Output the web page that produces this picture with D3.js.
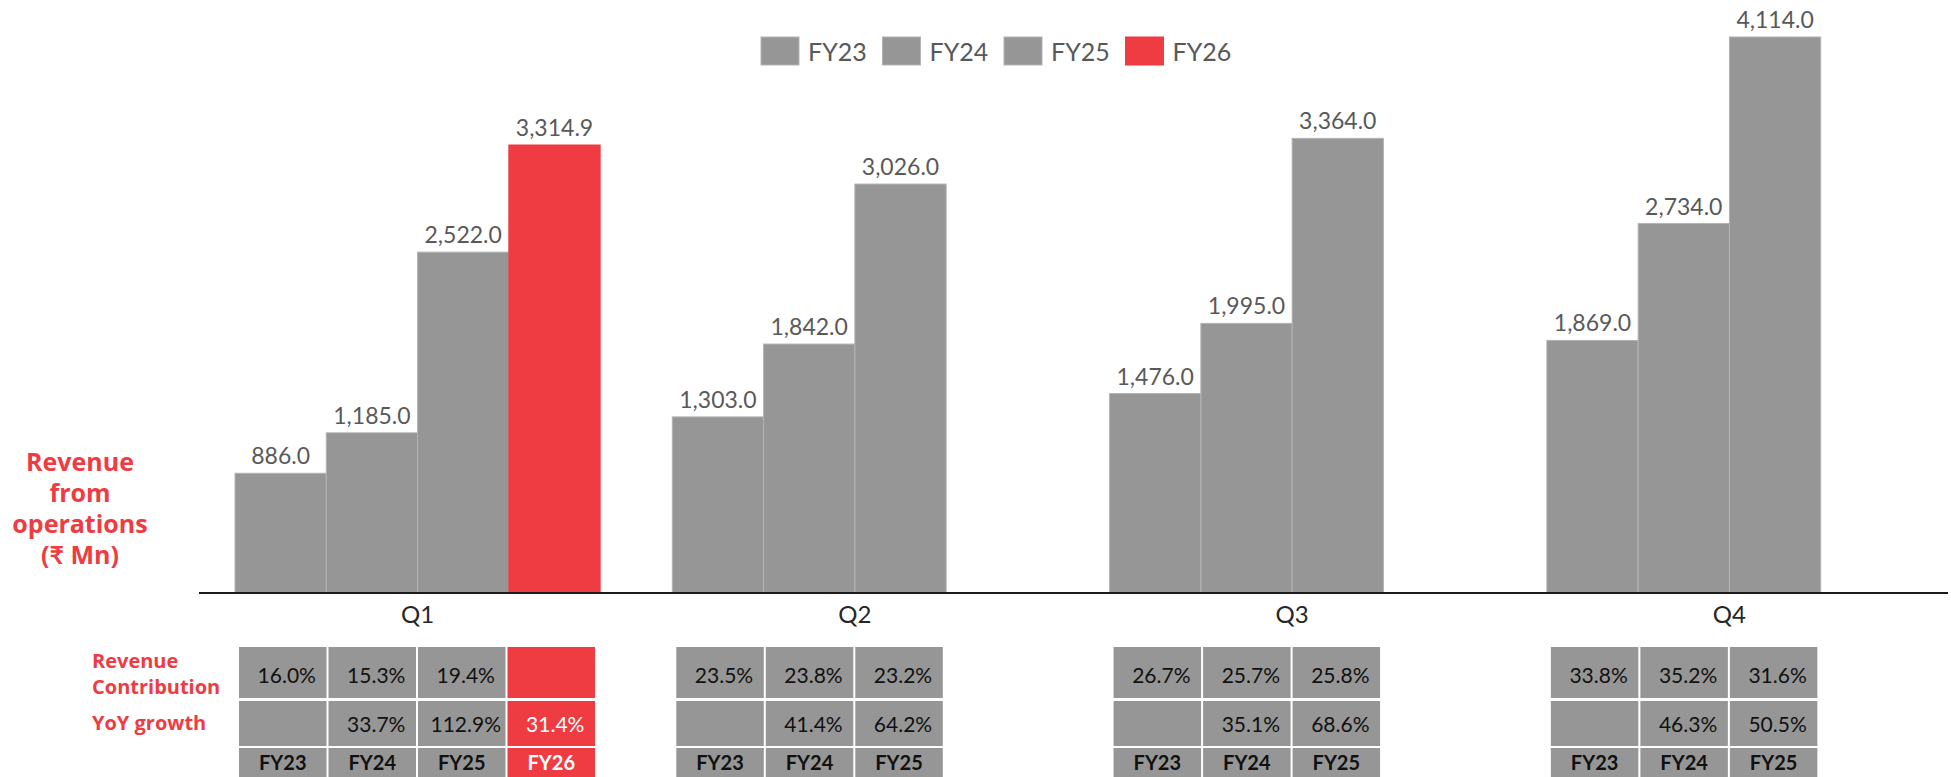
<!DOCTYPE html>
<html>
<head>
<meta charset="utf-8">
<script src="https://cdn.jsdelivr.net/npm/d3@7"></script>
<style>
  body { margin: 0; background: #fff; }
  text { font-family: Lato, "Open Sans", sans-serif; }
  .lbl { font-family: "Open Sans", Lato, sans-serif; }
</style>
</head>
<body>
<svg width="1951" height="777"></svg>
<script>
const width = 1951, height = 777;

// data
const quarters = ["Q1", "Q2", "Q3", "Q4"];
const years = ["FY23", "FY24", "FY25", "FY26"];
const fy23 = [886.0, 1303.0, 1476.0, 1869.0];
const fy24 = [1185.0, 1842.0, 1995.0, 2734.0];
const fy25 = [2522.0, 3026.0, 3364.0, 4114.0];
const fy26 = [3314.9, null, null, null];
const contribFY23 = [16.0, 23.5, 26.7, 33.8];
const contribFY24 = [15.3, 23.8, 25.7, 35.2];
const contribFY25 = [19.4, 23.2, 25.8, 31.6];
const contribFY26 = [null, null, null, null];
const yoyFY23 = [null, null, null, null];
const yoyFY24 = [33.7, 41.4, 35.1, 46.3];
const yoyFY25 = [112.9, 64.2, 68.6, 50.5];
const yoyFY26 = [31.4, null, null, null];

const seriesVals = [fy23, fy24, fy25, fy26];
const contribVals = [contribFY23, contribFY24, contribFY25, contribFY26];
const yoyVals = [yoyFY23, yoyFY24, yoyFY25, yoyFY26];

const grey = "#969696", red = "#EF3B42";
const color = d3.scaleOrdinal().domain(years).range([grey, grey, grey, red]);

const rows = [];
quarters.forEach((q, qi) => {
  years.forEach((y, yi) => {
    const v = seriesVals[yi][qi];
    if (v != null) rows.push({ q, y, v, contrib: contribVals[yi][qi], yoy: yoyVals[yi][qi] });
  });
});

const svg = d3.select("svg");

const x0 = d3.scaleBand().domain(quarters).range([235, 1912]).paddingInner(0.165).paddingOuter(0);
const x1 = d3.scaleBand().domain(years).range([0, x0.bandwidth()]).padding(0);
const y = d3.scaleLinear().domain([0, 4114]).range([593, 37]);

const fmt = d3.format(",.1f");

// bars
const bars = svg.append("g").selectAll("g")
  .data(rows)
  .enter().append("g");

bars.append("rect")
  .attr("x", d => x0(d.q) + x1(d.y))
  .attr("y", d => y(d.v))
  .attr("width", x1.bandwidth())
  .attr("height", d => y(0) - y(d.v))
  .attr("fill", d => color(d.y))
  .attr("stroke", d => d.y == "FY26" ? red : "#b3b3b3")
  .attr("stroke-width", 1);

bars.append("text")
  .attr("x", d => x0(d.q) + x1(d.y) + x1.bandwidth() / 2)
  .attr("y", d => y(d.v) - 9)
  .attr("text-anchor", "middle")
  .attr("font-size", 23)
  .attr("fill", "#595959")
  .text(d => fmt(d.v));

// axis line
svg.append("line")
  .attr("x1", 199).attr("x2", 1948)
  .attr("y1", 593).attr("y2", 593)
  .attr("stroke", "#1a1a1a").attr("stroke-width", 2);

svg.append("g").selectAll("text")
  .data(quarters)
  .enter().append("text")
  .attr("x", d => x0(d) + x0.bandwidth() / 2)
  .attr("y", 623)
  .attr("text-anchor", "middle")
  .attr("font-size", 24)
  .attr("fill", "#262626")
  .text(d => d);

// legend
const legend = svg.append("g").selectAll("g")
  .data(years)
  .enter().append("g")
  .attr("transform", (d, i) => "translate(" + (761 + i * 121.5) + ",37)");
legend.append("rect")
  .attr("width", 38).attr("height", 28)
  .attr("fill", d => color(d))
  .attr("stroke", d => d == "FY26" ? red : "#b3b3b3");
legend.append("text")
  .attr("x", 47).attr("y", 24)
  .attr("font-size", 25)
  .attr("fill", "#595959")
  .text(d => d);

// left title
const title = ["Revenue", "from", "operations", "(₹ Mn)"];
svg.append("g").selectAll("text")
  .data(title)
  .enter().append("text")
  .attr("class", "lbl")
  .attr("x", 80)
  .attr("y", (d, i) => 471 + i * 31)
  .attr("text-anchor", "middle")
  .attr("font-size", 25)
  .attr("font-weight", "bold")
  .attr("fill", red)
  .text(d => d);

// table row labels
const rowLabels = [["Revenue", 668], ["Contribution", 694], ["YoY growth", 730]];
svg.append("g").selectAll("text")
  .data(rowLabels)
  .enter().append("text")
  .attr("class", "lbl")
  .attr("x", 92)
  .attr("y", d => d[1])
  .attr("font-size", 20)
  .attr("font-weight", "bold")
  .attr("fill", red)
  .text(d => d[0]);

// table
const cellStep = 89.5, cellW = 87.5;
const tableRows = [
  { top: 647, h: 51, base: 683, key: "contrib", bold: false },
  { top: 701, h: 45, base: 732, key: "yoy", bold: false },
  { top: 748, h: 29, base: 770, key: "year", bold: true }
];
const cells = svg.append("g").selectAll("g")
  .data(rows)
  .enter().append("g")
  .attr("transform", d => "translate(" + (x0(d.q) + 4 + years.indexOf(d.y) * cellStep) + ",0)");

tableRows.forEach(r => {
  cells.append("rect")
    .attr("y", r.top)
    .attr("width", cellW)
    .attr("height", r.h)
    .attr("fill", d => color(d.y));
  cells.append("text")
    .attr("x", cellW / 2 + (r.bold ? 0 : 4))
    .attr("y", r.base)
    .attr("text-anchor", "middle")
    .attr("font-size", r.bold ? 20 : 21)
    .attr("font-weight", r.bold ? "bold" : "normal")
    .attr("fill", d => d.y == "FY26" ? "#fff" : "#111")
    .text(d => {
      if (r.key == "year") return d.y;
      const v = d[r.key];
      return v == null ? "" : v.toFixed(1) + "%";
    });
});
</script>
</body>
</html>
